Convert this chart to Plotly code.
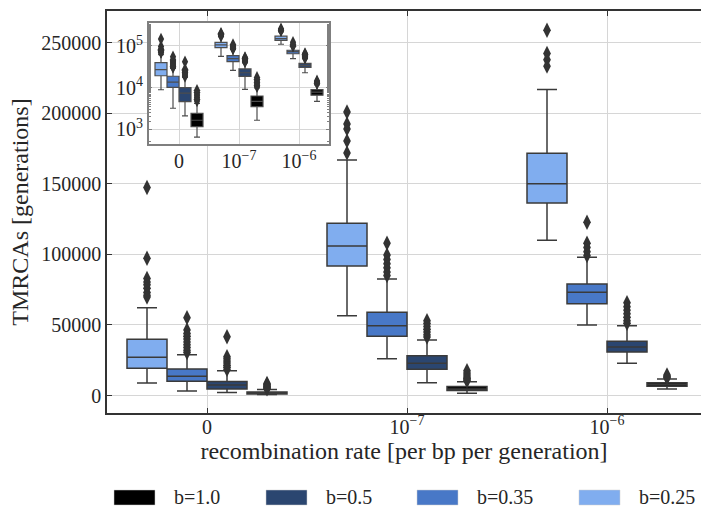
import plotly.graph_objects as go

# ---------------- data ----------------
categories = ["0", "10<sup>−7</sup>", "10<sup>−6</sup>"]
series = ["b=0.25", "b=0.35", "b=0.5", "b=1.0"]
colors = ["#80ADEF", "#4878C7", "#2B4670", "#000000"]

q1 = {
    "b=0.25": [19300, 91800, 136500],
    "b=0.35": [10100, 42000, 65100],
    "b=0.5": [4600, 18600, 30800],
    "b=1.0": [1150, 3500, 6600],
}
median = {
    "b=0.25": [27100, 106000, 150200],
    "b=0.35": [13600, 49500, 73200],
    "b=0.5": [7400, 22800, 34400],
    "b=1.0": [1650, 4700, 7800],
}
q3 = {
    "b=0.25": [39800, 122100, 171800],
    "b=0.35": [18800, 59000, 79000],
    "b=0.5": [10000, 28200, 38400],
    "b=1.0": [2400, 6300, 9000],
}
lower = {
    "b=0.25": [8900, 56600, 110100],
    "b=0.35": [3200, 26100, 50000],
    "b=0.5": [2100, 9100, 22800],
    "b=1.0": [650, 1650, 4700],
}
upper = {
    "b=0.25": [62200, 167000, 217000],
    "b=0.35": [28900, 82600, 98000],
    "b=0.5": [17600, 39400, 49500],
    "b=1.0": [4200, 9800, 11700],
}
outliers = {
    "b=0.25": [[147500, 97300, 83000, 80500, 78500, 76000, 73000, 71000, 69800],
               [201000, 192500, 189000, 180500, 172000],
               [259000, 242500, 238000, 233500]],
    "b=0.35": [[55200, 46500, 44000, 42000, 40000, 38000, 36000, 34000, 32000, 30500],
               [108000, 99600, 96500, 93500, 90500, 87500, 85000],
               [122800, 107900, 105000, 102000, 99200]],
    "b=0.5": [[41700, 27500, 26000, 24500, 23000, 21500, 20000, 18500],
              [53000, 51000, 49000, 47000, 45000, 43000, 41500],
              [65800, 63000, 60500, 58000, 55500, 53000, 51200]],
    "b=1.0": [[8600, 7800, 7000, 6400, 5800, 5300, 4800],
              [17600, 16000, 14500, 13200, 12200, 11200, 10500],
              [14500, 13600, 13000, 12500]],
}
main_yticks = [0, 50000, 100000, 150000, 200000, 250000]
inset_yticks = [1e3, 1e4, 1e5]
inset_yticktext = ["10<sup>3</sup>", "10<sup>4</sup>", "10<sup>5</sup>"]
legend_order = ["b=1.0", "b=0.5", "b=0.35", "b=0.25"]

# ---------------- layout helpers ----------------
W_FIG, H_FIG = 701, 508
L, T, W, H = 107, 11, 594, 402
FONT = "Liberation Serif"
TXT = "#262626"


def px(xp):
    return (xp - L) / W


def py(yp):
    return (T + H - yp) / H


offsets = [-0.3, -0.1, 0.1, 0.3]
fig = go.Figure()

for axes, lw, lc, msize in [(("x", "y"), 1.5, "#3a3a3a", 11), (("x2", "y2"), 1.2, "#4d4d4d", 9)]:
    for s, c, off in zip(series, colors, offsets):
        pos = [i + off for i in range(len(categories))]
        fig.add_trace(go.Box(
            x=pos, q1=q1[s], median=median[s], q3=q3[s],
            lowerfence=lower[s], upperfence=upper[s],
            width=0.2, whiskerwidth=0.5,
            fillcolor=c, line=dict(color=lc, width=lw),
            boxpoints=False, showlegend=False, hoverinfo="skip",
            xaxis=axes[0], yaxis=axes[1], name=s,
        ))
        ox, oy = [], []
        for i, vals in enumerate(outliers[s]):
            ox += [i + off] * len(vals)
            oy += vals
        fig.add_trace(go.Scatter(
            x=ox, y=oy, mode="markers",
            marker=dict(symbol="diamond-tall", size=msize, color="#333333",
                        line=dict(width=0)),
            showlegend=False, hoverinfo="skip",
            xaxis=axes[0], yaxis=axes[1],
        ))

fig.update_layout(
    width=W_FIG, height=H_FIG,
    margin=dict(l=L, r=W_FIG - L - W, t=T, b=H_FIG - T - H, pad=0),
    paper_bgcolor="white", plot_bgcolor="white",
    font=dict(family=FONT, size=20, color=TXT),
    showlegend=False,
    xaxis=dict(
        range=[-0.5, 2.47], tickmode="array", tickvals=[0, 1, 2], ticktext=categories,
        showgrid=True, gridcolor="#d6d6d6", gridwidth=1, zeroline=False,
        showline=True, linecolor="#333333", linewidth=1.5, mirror="ticks",
        ticks="inside", ticklen=5, tickcolor="#333333", ticklabelstandoff=-5,
        title=dict(text="recombination rate [per bp per generation]", standoff=5,
                   font=dict(size=24)),
        tickfont=dict(size=20),
    ),
    yaxis=dict(
        range=[-12400, 272600], tickmode="array", tickvals=main_yticks,
        tickformat="d",
        showgrid=True, gridcolor="#d6d6d6", gridwidth=1, zeroline=False,
        showline=True, linecolor="#333333", linewidth=1.5,
        ticks="inside", ticklen=5, tickcolor="#333333",
        title=dict(text="TMRCAs [generations]", standoff=6, font=dict(size=24)),
        tickfont=dict(size=20),
    ),
    xaxis2=dict(
        domain=[px(149), px(329)], anchor="y2",
        range=[-0.5, 2.5], tickmode="array", tickvals=[0, 1, 2], ticktext=categories,
        showgrid=True, gridcolor="#d6d6d6", gridwidth=1, zeroline=False,
        showline=True, linecolor="#7f7f7f", linewidth=2, mirror=True,
        ticks="", tickfont=dict(size=20), ticklabelstandoff=-2,
    ),
    yaxis2=dict(
        domain=[py(144), py(23)], anchor="x2", type="log",
        range=[2.647, 5.552], tickmode="array", tickvals=inset_yticks,
        ticktext=inset_yticktext,
        showgrid=True, gridcolor="#d6d6d6", gridwidth=1, zeroline=False,
        showline=True, linecolor="#7f7f7f", linewidth=2, mirror="allticks",
        ticks="inside", ticklen=3, tickcolor="#7f7f7f",
        minor=dict(ticks="inside", ticklen=2, tickcolor="#7f7f7f", showgrid=False),
        tickfont=dict(size=20),
    ),
)

# white background behind inset (covers the main grid)
fig.add_shape(type="rect", xref="x2 domain", yref="y2 domain",
              x0=0, x1=1, y0=0, y1=1, fillcolor="white",
              line=dict(width=0), layer="below")

# manual legend with wide patches
leg_rect_x = [114, 266, 417, 579]
leg_text_x = [172, 324, 475, 637]
for s, rx, tx in zip(legend_order, leg_rect_x, leg_text_x):
    c = colors[series.index(s)]
    fig.add_shape(type="rect", xref="paper", yref="paper",
                  x0=px(rx), x1=px(rx + 41), y0=py(505), y1=py(490),
                  fillcolor=c, line=dict(width=0.5, color="#cccccc"))
    fig.add_annotation(xref="paper", yref="paper", x=px(tx), y=py(497),
                       text=s, showarrow=False, xanchor="left", yanchor="middle",
                       font=dict(size=20, family=FONT, color=TXT))

fig.write_html("out.html")
